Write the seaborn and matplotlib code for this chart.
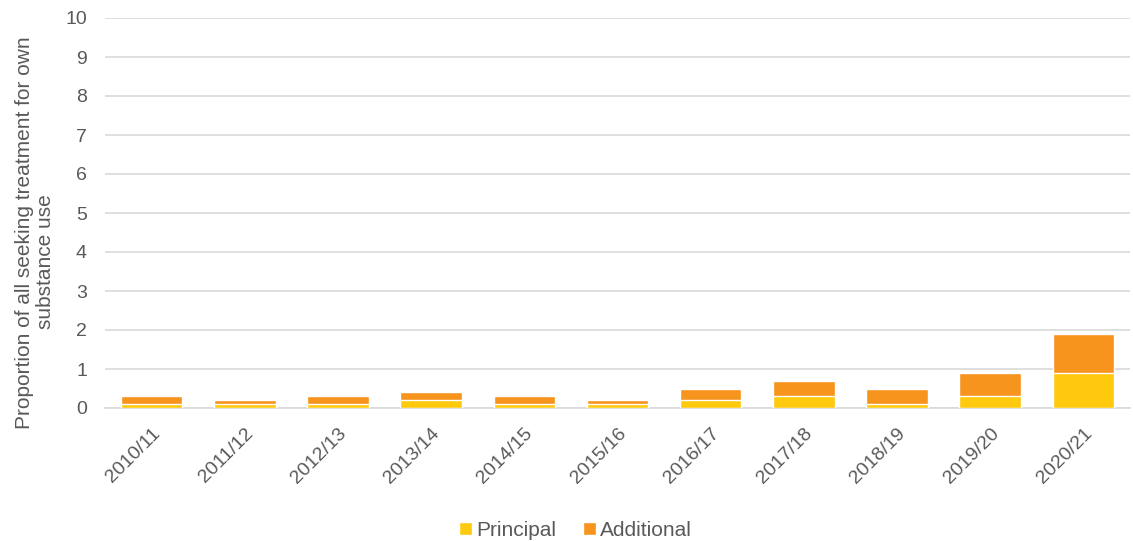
import matplotlib
matplotlib.use("Agg")
import matplotlib.pyplot as plt
import seaborn as sns
import pandas as pd

years = ["2010/11", "2011/12", "2012/13", "2013/14", "2014/15", "2015/16",
         "2016/17", "2017/18", "2018/19", "2019/20", "2020/21"]
principal = [0.1, 0.1, 0.1, 0.2, 0.1, 0.1, 0.2, 0.3, 0.1, 0.3, 0.9]
additional = [0.2, 0.1, 0.2, 0.2, 0.2, 0.1, 0.3, 0.4, 0.4, 0.6, 1.0]

sns.set_theme(style="white")
plt.rcParams['font.family'] = ['Liberation Sans', 'DejaVu Sans']
txt = "#595959"

df = pd.DataFrame({"year": years, "Principal": principal, "Additional": additional})
df["Total"] = df["Principal"] + df["Additional"]

fig = plt.figure(figsize=(11.33, 5.41), dpi=100)
ax = fig.add_axes([105 / 1133, 1 - 408 / 541, 1025 / 1133, 390 / 541])

sns.barplot(data=df, x="year", y="Total", color="#F7941D", width=0.66, ax=ax,
            label="Additional", saturation=1, zorder=3)
sns.barplot(data=df, x="year", y="Principal", color="#FFC90E", width=0.66, ax=ax,
            label="Principal", saturation=1, zorder=4)

ax.set_ylim(0, 10)
ax.set_xlim(-0.5, len(years) - 0.5)
ax.set_yticks(range(0, 11))
ax.yaxis.grid(True, color="#d9d9d9", linewidth=1.2)
ax.set_axisbelow(True)
for s in ["top", "right", "left"]:
    ax.spines[s].set_visible(False)
ax.spines["bottom"].set_color("#d9d9d9")
ax.spines["bottom"].set_linewidth(1.2)
ax.tick_params(axis="both", colors=txt, labelsize=14, length=0)
ax.tick_params(axis="y", pad=13)
ax.tick_params(axis="x", pad=12)
plt.setp(ax.get_xticklabels(), rotation=45, ha="right", rotation_mode="anchor")
ax.set_xlabel("")
ax.set_ylabel("Proportion of all seeking treatment for own\nsubstance use" + " " * 10,
              color=txt, fontsize=15, multialignment="center", linespacing=1.1)
ax.yaxis.set_label_coords(-0.049, 0.45)

handles, labels = ax.get_legend_handles_labels()
order = [labels.index("Principal"), labels.index("Additional")]
fig.legend([handles[i] for i in order], [labels[i] for i in order],
           loc="center", bbox_to_anchor=(0.508, 0.02), ncol=2, frameon=False,
           fontsize=15, labelcolor=txt, handlelength=0.6, handleheight=0.6,
           handletextpad=0.2, columnspacing=1.3)
if ax.get_legend():
    ax.get_legend().remove()

fig.savefig("out.png", dpi=100)
